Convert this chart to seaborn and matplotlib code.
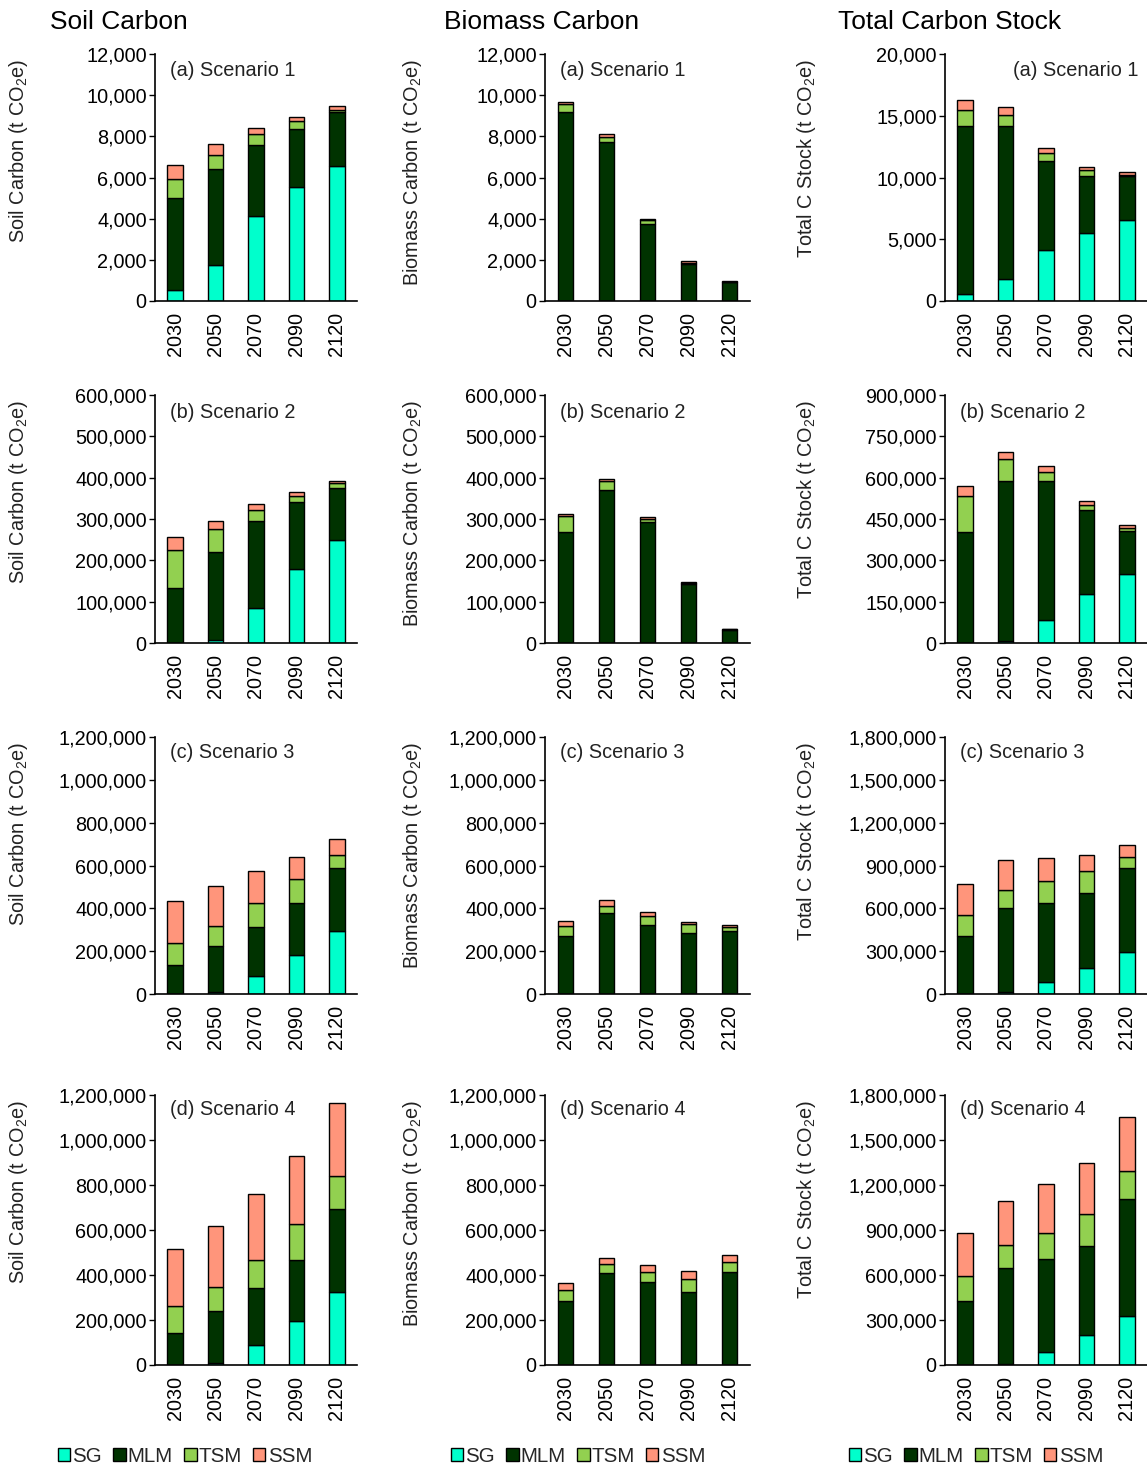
import numpy as np
import pandas as pd
import matplotlib
matplotlib.use("Agg")
import matplotlib.pyplot as plt
from matplotlib.ticker import FuncFormatter, MultipleLocator
from matplotlib.patches import Patch
import seaborn as sns

sns.set_theme(style="white")
plt.rcParams["font.family"] = ["Liberation Sans", "DejaVu Sans"]
plt.rcParams["mathtext.fontset"] = "custom"
plt.rcParams["mathtext.rm"] = "Liberation Sans"

years = ["2030", "2050", "2070", "2090", "2120"]
components = ["SG", "MLM", "TSM", "SSM"]
colors = {"SG": "#00FFCC", "MLM": "#003300", "TSM": "#92D050", "SSM": "#FF957B"}

# ---- Scenario 1 (t CO2e) ----
soil_s1 = {"SG": [550, 1750, 4110, 5530, 6550],
           "MLM": [4450, 4670, 3460, 2820, 2640],
           "TSM": [940, 670, 520, 390, 110],
           "SSM": [690, 550, 320, 210, 170]}
biomass_s1 = {"SG": [0, 0, 0, 0, 0],
              "MLM": [9170, 7730, 3750, 1780, 900],
              "TSM": [380, 250, 170, 80, 30],
              "SSM": [110, 110, 80, 80, 40]}
total_s1 = {"SG": [550, 1750, 4110, 5530, 6550],
            "MLM": [13620, 12400, 7210, 4600, 3540],
            "TSM": [1320, 920, 690, 470, 140],
            "SSM": [800, 660, 400, 290, 210]}

# ---- Scenario 2 ----
soil_s2 = {"SG": [1000, 8000, 84000, 178000, 250000],
           "MLM": [133000, 211000, 211000, 163000, 126000],
           "TSM": [90000, 58000, 26500, 15000, 10000],
           "SSM": [33000, 19000, 15500, 10000, 7000]}
biomass_s2 = {"SG": [0, 0, 0, 0, 0],
              "MLM": [269000, 370000, 293000, 142000, 31000],
              "TSM": [39000, 22500, 7000, 3000, 2000],
              "SSM": [4000, 4000, 5000, 3500, 2000]}
total_s2 = {"SG": [1000, 8000, 84000, 178000, 250000],
            "MLM": [402000, 581000, 504000, 305000, 157000],
            "TSM": [129000, 80500, 33500, 18000, 12000],
            "SSM": [37000, 23000, 20500, 13500, 9000]}

# ---- Scenario 3 ----
soil_s3 = {"SG": [2000, 11000, 84000, 182000, 295000],
           "MLM": [133000, 213000, 230000, 241000, 291000],
           "TSM": [104000, 93000, 109000, 112000, 65000],
           "SSM": [195000, 188000, 151000, 105000, 73000]}
biomass_s3 = {"SG": [0, 0, 0, 0, 0],
              "MLM": [273000, 376000, 322000, 286000, 295000],
              "TSM": [44000, 37000, 43000, 40000, 16000],
              "SSM": [22000, 24000, 16000, 11000, 9000]}
total_s3 = {"SG": [2000, 11000, 84000, 182000, 295000],
            "MLM": [406000, 589000, 552000, 527000, 586000],
            "TSM": [148000, 130000, 152000, 152000, 81000],
            "SSM": [217000, 212000, 167000, 116000, 82000]}

# ---- Scenario 4 ----
soil_s4 = {"SG": [2000, 10000, 89000, 197000, 326000],
           "MLM": [142000, 231000, 253000, 268000, 366000],
           "TSM": [118000, 107000, 125000, 162000, 147000],
           "SSM": [254000, 271000, 293000, 303000, 327000]}
biomass_s4 = {"SG": [0, 0, 0, 0, 0],
              "MLM": [284000, 407000, 367000, 326000, 412000],
              "TSM": [49000, 42000, 46000, 56000, 44000],
              "SSM": [31000, 28000, 33000, 34000, 34000]}
total_s4 = {"SG": [2000, 10000, 89000, 197000, 326000],
            "MLM": [426000, 638000, 620000, 594000, 778000],
            "TSM": [167000, 149000, 171000, 218000, 191000],
            "SSM": [285000, 299000, 326000, 337000, 361000]}

column_titles = ["Soil Carbon", "Biomass Carbon", "Total Carbon Stock"]
y_labels = ["Soil Carbon (t CO$_\\mathregular{2}$e)",
            "Biomass Carbon (t CO$_\\mathregular{2}$e)",
            "Total C Stock (t CO$_\\mathregular{2}$e)"]
panel_labels = ["(a) Scenario 1", "(b) Scenario 2", "(c) Scenario 3", "(d) Scenario 4"]

panels = [[soil_s1, biomass_s1, total_s1],
          [soil_s2, biomass_s2, total_s2],
          [soil_s3, biomass_s3, total_s3],
          [soil_s4, biomass_s4, total_s4]]

# y-axis (max, step) per row and column
y_scales = [[(12000, 2000), (12000, 2000), (20000, 5000)],
            [(600000, 100000), (600000, 100000), (900000, 150000)],
            [(1200000, 200000), (1200000, 200000), (1800000, 300000)],
            [(1200000, 200000), (1200000, 200000), (1800000, 300000)]]

W, H = 1147, 1470
fig = plt.figure(figsize=(W / 100, H / 100), dpi=100)

col_left = [155, 545, 945]
col_width = [202, 205, 202]
row_span = [(54, 301), (395, 643), (737, 994), (1095, 1365)]
label_y = [0.935, 0.93, 0.94, 0.948]
ylabel_x = [19, 412, 807]
FS = 14.3

for r in range(4):
    top, bot = row_span[r]
    for c in range(3):
        ax = fig.add_axes([col_left[c] / W, 1 - bot / H, col_width[c] / W, (bot - top) / H])
        data = panels[r][c]
        bottom = np.zeros(len(years))
        for comp in components:
            vals = np.array(data[comp], dtype=float)
            df = pd.DataFrame({"year": years, "value": vals})
            sns.barplot(data=df, x="year", y="value", order=years, ax=ax,
                        color=colors[comp], saturation=1, errorbar=None,
                        width=0.39, bottom=bottom, edgecolor="black", linewidth=1.0)
            bottom = bottom + vals
        ymax, step = y_scales[r][c]
        ax.set_ylim(0, ymax)
        ax.set_xlim(-0.5, 4.5)
        ax.yaxis.set_major_locator(MultipleLocator(step))
        ax.yaxis.set_major_formatter(FuncFormatter(lambda v, p: f"{v:,.0f}"))
        ax.set_xlabel("")
        ax.set_ylabel("")
        sns.despine(ax=ax)
        for s in ["left", "bottom"]:
            ax.spines[s].set_color("black")
            ax.spines[s].set_linewidth(1.2)
        ax.tick_params(axis="y", which="major", left=True, length=4, width=1.0,
                       pad=2, labelsize=FS, colors="black")
        ax.tick_params(axis="x", length=0, pad=8, labelsize=FS, labelrotation=90,
                       colors="black")
        if r == 0 and c == 2:
            ax.text(0.96, label_y[r], panel_labels[r], transform=ax.transAxes,
                    ha="right", va="center", fontsize=FS, color="#222222")
        else:
            ax.text(0.075, label_y[r], panel_labels[r], transform=ax.transAxes,
                    ha="left", va="center", fontsize=FS, color="#222222")
        fig.text(ylabel_x[c] / W, 1 - (top + 5) / H, y_labels[c],
                 rotation=90, ha="center", va="top", fontsize=FS, color="#222222")

title_x = [50, 444, 838]
for c in range(3):
    fig.text(title_x[c] / W, 1 - 22 / H, column_titles[c], ha="left", va="center",
             fontsize=19, color="black")

legend_cx = [185, 578, 976]
handles = [Patch(facecolor=colors[k], edgecolor="black", linewidth=1.0, label=k)
           for k in components]
for c in range(3):
    fig.legend(handles=handles, loc="center", bbox_to_anchor=(legend_cx[c] / W, 1 - 1456 / H),
               ncol=4, frameon=False, fontsize=14.8, handlelength=0.6, handleheight=0.6,
               handletextpad=0.1, columnspacing=0.55, borderpad=0)

fig.savefig("out.png", dpi=100)
